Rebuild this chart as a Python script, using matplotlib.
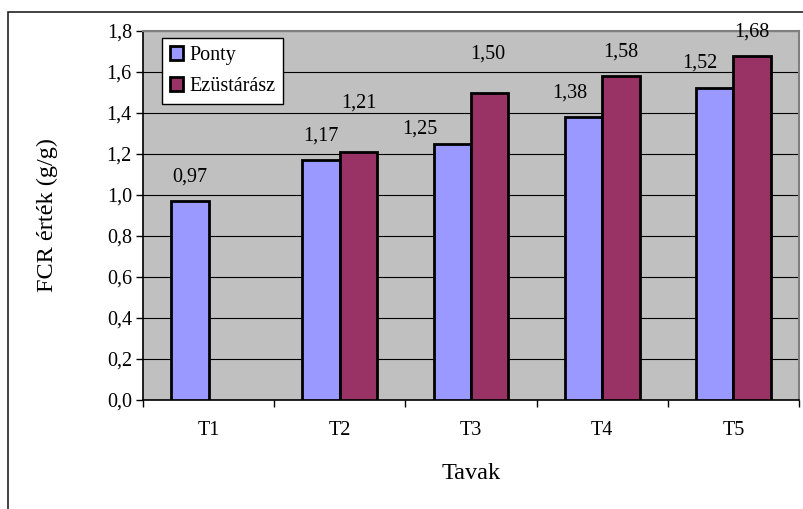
#!/usr/bin/env python
# -*- coding: utf-8 -*-
"""FCR értékek tavanként (Ponty / Ezüstárász)"""
import numpy as np
import matplotlib
matplotlib.use('Agg')
import matplotlib.pyplot as plt
from matplotlib.patches import Rectangle

categories = ['T1', 'T2', 'T3', 'T4', 'T5']
ponty = [0.97, 1.17, 1.25, 1.38, 1.52]
ezust = [np.nan, 1.21, 1.50, 1.58, 1.68]
series_names = ['Ponty', 'Ezüstárász']

# data label offsets in pixels (Excel moved a few of them by hand)
ponty_lbl_off = [(0, 24), (0, 24), (-32, 15), (-14, 24), (-15, 25)]
ezust_lbl_off = [(0, 0), (0, 49), (-2, 38), (0, 24), (0, 24)]

C_PONTY = '#9999FF'
C_EZUST = '#993366'
FS = 14.5

plt.rcParams['font.family'] = ['Liberation Serif', 'DejaVu Serif']

fig = plt.figure(figsize=(8.04, 5.09), dpi=100)
ax = fig.add_axes([143 / 804, 1 - 400 / 509, 656 / 804, 369 / 509])

# outer chart border
fig.patches.append(Rectangle((8 / 804, -0.05), 1.0, 1 - 12 / 509 + 0.05,
                             transform=fig.transFigure, fill=False,
                             edgecolor='#222222', linewidth=1.2, zorder=0))

x = np.arange(len(categories))
w = 1 / 3.5
ax.bar(x - w / 2, ponty, w, color=C_PONTY, edgecolor='black',
       linewidth=2, label=series_names[0], zorder=3)
ax.bar(x + w / 2, ezust, w, color=C_EZUST, edgecolor='black',
       linewidth=2, label=series_names[1], zorder=3)


def fmt(v):
    return '{:.2f}'.format(v).replace('.', ',')


for xi, v, off in zip(x - w / 2, ponty, ponty_lbl_off):
    ax.annotate(fmt(v), (xi, v), xytext=off, textcoords='offset pixels',
                ha='center', va='center', fontsize=FS, zorder=5)
for xi, v, off in zip(x + w / 2, ezust, ezust_lbl_off):
    if np.isnan(v):
        continue
    ax.annotate(fmt(v), (xi, v), xytext=off, textcoords='offset pixels',
                ha='center', va='center', fontsize=FS, zorder=5,
                annotation_clip=False)

ax.set_facecolor('#C0C0C0')
ax.set_xlim(-0.5, len(categories) - 0.5)
ax.set_ylim(0, 1.8)
yt = np.arange(0, 1.81, 0.2)
ax.set_yticks(yt)
ax.set_yticklabels(['{:.1f}'.format(t).replace('.', ',') for t in yt], fontsize=FS)
ax.yaxis.grid(True, color='black', linewidth=0.8, zorder=1)
ax.set_axisbelow(True)

# category boundary ticks, labels at centers
ax.set_xticks(np.arange(-0.5, len(categories)), minor=False)
ax.set_xticklabels([])
ax.set_xticks(x, minor=True)
ax.set_xticklabels(categories, minor=True, fontsize=FS)
ax.tick_params(axis='x', which='major', length=5, width=1, direction='out')
ax.tick_params(axis='x', which='minor', length=0, pad=15)
ax.tick_params(axis='y', length=5, width=1, direction='out', pad=3)

for s in ['top', 'right']:
    ax.spines[s].set_color('#808080')
    ax.spines[s].set_linewidth(1.5)
for s in ['left', 'bottom']:
    ax.spines[s].set_color('black')
    ax.spines[s].set_linewidth(1.2)

ax.set_ylabel('FCR érték (g/g)', fontsize=17.5, labelpad=35)
ax.set_xlabel('Tavak', fontsize=17.5, labelpad=17)

leg = ax.legend(loc='upper left', bbox_to_anchor=(19 / 656, 1 - 7 / 369),
                fontsize=FS, frameon=True, fancybox=False, edgecolor='black',
                framealpha=1, borderpad=0.4, labelspacing=0.6,
                handlelength=0.65, handleheight=0.65, handletextpad=0.3,
                borderaxespad=0)
leg.get_frame().set_linewidth(1)
for h in leg.legend_handles:
    h.set_linewidth(2)

fig.savefig('out.png', dpi=100)
